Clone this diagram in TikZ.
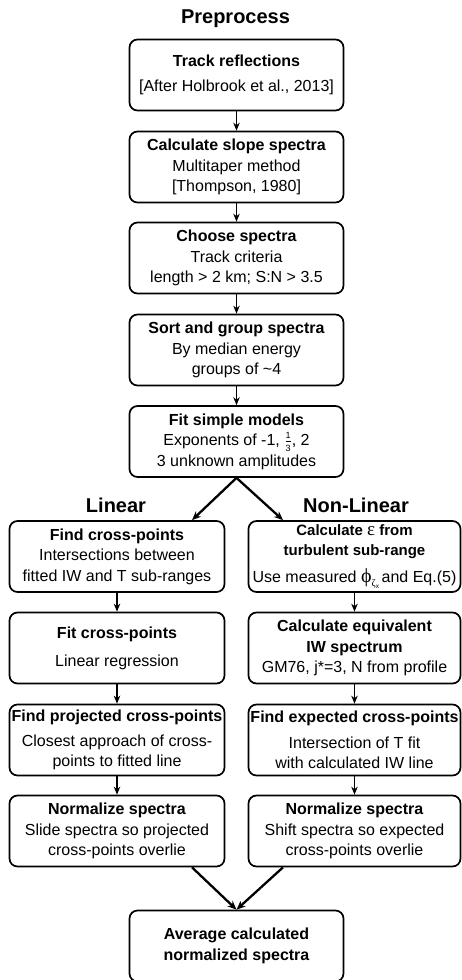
\documentclass[tikz,border=0pt]{standalone}
\usepackage{fontspec}
\setmainfont{Liberation Sans}
\newfontfamily\grk{Liberation Serif}
\usetikzlibrary{arrows.meta}
\newcommand{\onethird}{\ensuremath{\frac{\mbox{\fontsize{9}{9}\selectfont 1}}{\mbox{\fontsize{9}{9}\selectfont 3}}}}
\begin{document}
\begin{tikzpicture}[x=1pt,y=-1pt,
  box/.style={draw, line width=1.7pt, rounded corners=8pt, minimum height=71pt,
    align=center, inner sep=0pt, font=\fontsize{16}{20.5}\selectfont},
  mainbox/.style={box, minimum width=214pt},
  leftbox/.style={box, minimum width=215pt},
  rightbox/.style={box, minimum width=212pt},
  hd/.style={font=\fontsize{20}{24}\selectfont\bfseries, inner sep=0pt},
  arr/.style={-{Stealth[length=8pt,width=6.5pt]}, line width=1.7pt},
  darr/.style={-{Stealth[length=9pt,width=7.5pt]}, line width=2.3pt}]
\useasboundingbox (0,0) rectangle (462,980);

\node[hd] (pre) at (235.5,19) {Preprocess};
\node[mainbox] (b1) at (236.5,75) {\textbf{Track reflections}\\[4.5pt][After Holbrook et al., 2013]};
\node[mainbox] (b2) at (236.5,167) {\textbf{Calculate slope spectra}\\Multitaper method\\{}[Thompson, 1980]};
\node[mainbox] (b3) at (236.5,258) {\textbf{Choose spectra}\\Track criteria\\length > 2 km; S:N > 3.5};
\node[mainbox] (b4) at (236.5,350) {\textbf{Sort and group spectra}\\By median energy\\groups of \textasciitilde4};
\node[mainbox] (b5) at (236.5,441.5) {\textbf{Fit simple models}\\Exponents of -1, \onethird, 2\\3 unknown amplitudes};

\node[hd] (lin) at (116,505) {Linear};
\node[hd] (nlin) at (356,505) {Non-Linear};

\node[leftbox] (L1) at (117,556.5) {\textbf{Find cross-points}\\Intersections between\\fitted IW and T sub-ranges};
\node[leftbox] (L2) at (117,648) {\textbf{Fit cross-points}\\[7.5pt]Linear regression};
\node[leftbox] (L3) at (117,740) {\textbf{Find projected cross-points}\\[4.5pt]Closest approach of cross-\\points to fitted line};
\node[leftbox] (L4) at (117,831) {\textbf{Normalize spectra}\\Slide spectra so projected\\cross-points overlie};

\node[rightbox] (R1) at (354.5,556.5) {\fontsize{15}{18}\selectfont\textbf{Calculate {\grk\mdseries\fontsize{19}{18}\selectfont ε} from}\\\fontsize{15}{18}\selectfont\textbf{turbulent sub-range}\\[6pt]Use measured {\grk\fontsize{20}{20}\selectfont ϕ}\raisebox{-0.5ex}{\fontsize{10}{10}\selectfont{\grk ζ}\raisebox{-0.4ex}{\fontsize{6.5}{6.5}\selectfont x}}\,and Eq.(5)};
\node[rightbox] (R2) at (354.5,648) {\textbf{Calculate equivalent}\\\textbf{IW spectrum}\\GM76, j*=3, N from profile};
\node[rightbox] (R3) at (354.5,740) {\textbf{Find expected cross-points}\\[5pt]Intersection of T fit\\with calculated IW line};
\node[rightbox] (R4) at (354.5,831) {\textbf{Normalize spectra}\\Shift spectra so expected\\cross-points overlie};

\node[mainbox] (fin) at (236.5,946) {\textbf{Average calculated}\\\textbf{normalized spectra}};

\draw[arr] (b1) -- (b2);
\draw[arr] (b2) -- (b3);
\draw[arr] (b3) -- (b4);
\draw[arr] (b4) -- (b5);
\draw[darr] (b5.south) -- ([xshift=75pt]L1.north);
\draw[darr] (b5.south) -- ([xshift=-71.5pt]R1.north);
\draw[arr] (L1) -- (L2);
\draw[arr] (L2) -- (L3);
\draw[arr] (L3) -- (L4);
\draw[arr] (R1) -- (R2);
\draw[arr] (R2) -- (R3);
\draw[arr] (R3) -- (R4);
\draw[darr] ([xshift=75pt]L4.south) -- (fin.north);
\draw[darr] ([xshift=-71.5pt]R4.south) -- (fin.north);
\end{tikzpicture}
\end{document}
